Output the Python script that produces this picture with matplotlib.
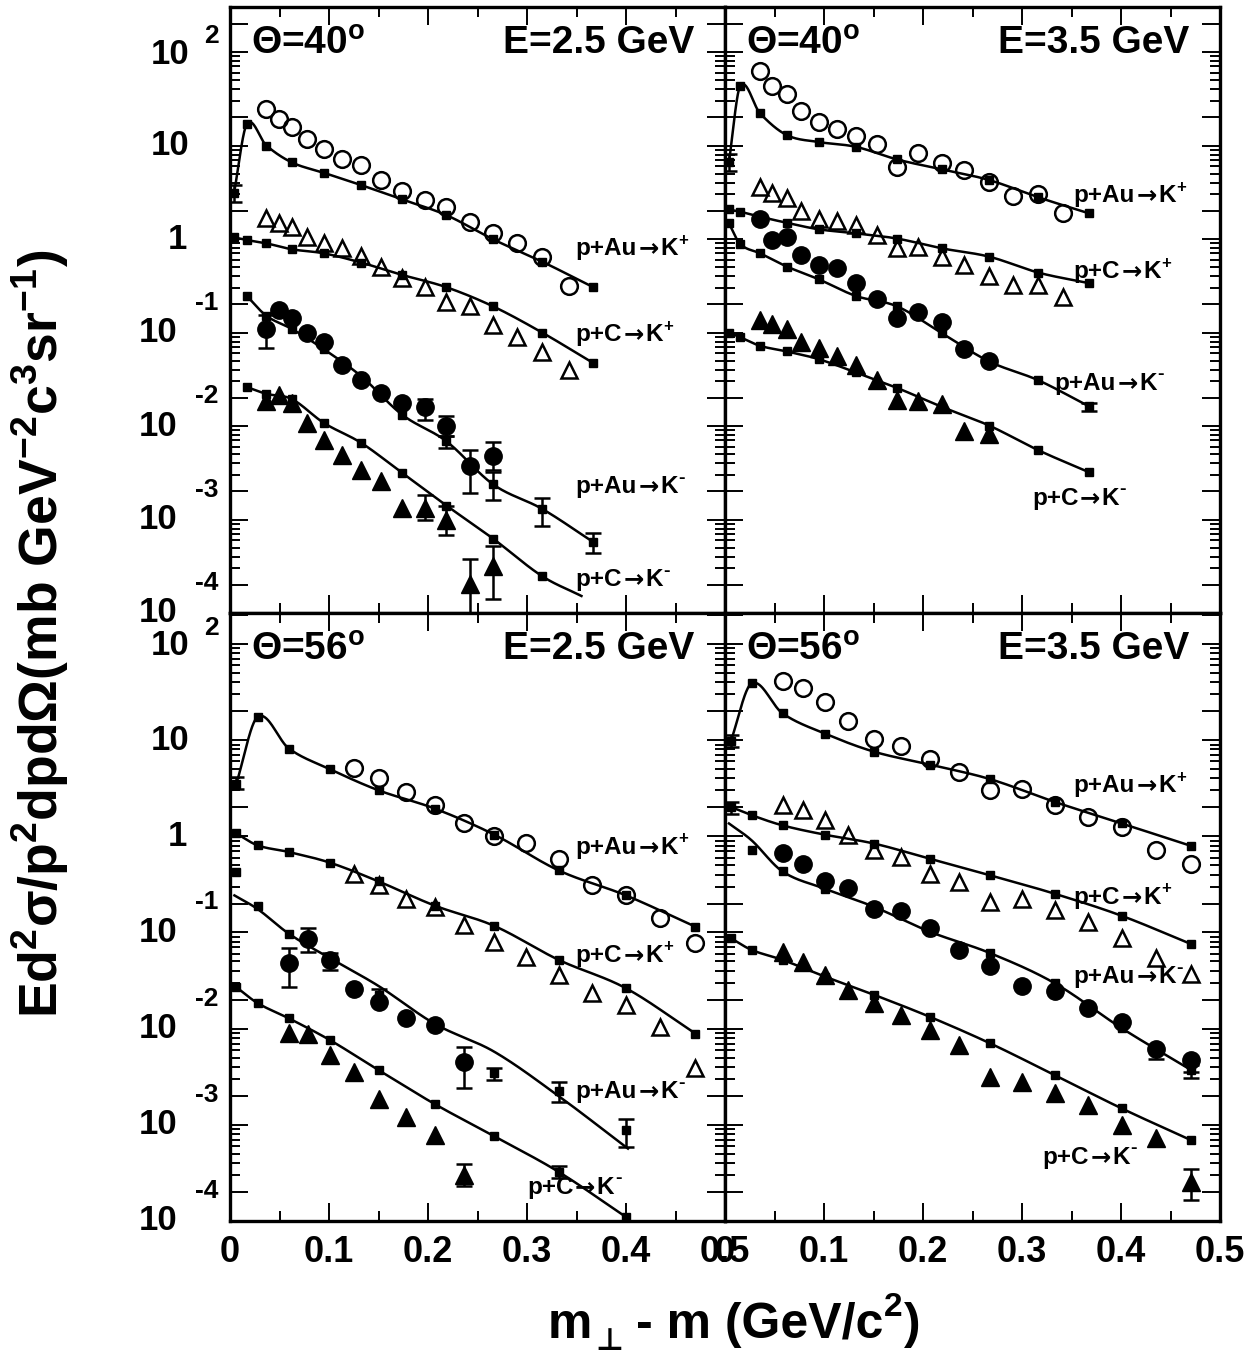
import numpy as np
import matplotlib.pyplot as plt
from matplotlib.ticker import FixedLocator, NullFormatter
from matplotlib.transforms import blended_transform_factory, ScaledTranslation

plt.rcParams['font.family'] = ['Liberation Sans', 'DejaVu Sans']
plt.rcParams['font.weight'] = 'bold'
plt.rcParams['mathtext.fontset'] = 'custom'
plt.rcParams['mathtext.rm'] = 'Liberation Sans:bold'
plt.rcParams['mathtext.it'] = 'Liberation Sans:bold'
plt.rcParams['mathtext.bf'] = 'Liberation Sans:bold'
plt.rcParams['mathtext.sf'] = 'Liberation Sans:bold'
plt.rcParams['mathtext.default'] = 'rm'

# ---------------- Theta = 40 deg, E = 2.5 GeV ----------------
x_a = [0.036, 0.049, 0.0625, 0.078, 0.095, 0.1136, 0.1326, 0.153, 0.174, 0.1966,
       0.2186, 0.2424, 0.2659, 0.29, 0.315, 0.342]
auKp_a = [24.8, 19.0, 15.6, 11.6, 9.29, 7.09, 6.17, 4.27, 3.28, 2.61, 2.21, 1.53, 1.17, 0.90, 0.648, 0.315]
cKp_a = [1.66, 1.49, 1.33, 1.04, 0.914, 0.795, 0.659, 0.507, 0.380, 0.305, 0.214, 0.193, 0.121, 0.089, 0.0626, 0.040]
auKm_a = [0.109, 0.175, 0.142, 0.1, 0.080, 0.0452, 0.0313, 0.0225, 0.0176, 0.0160, 0.0099, 0.00378, 0.00474]
auKm_a_err = {0: (0.068, 0.154), 9: (0.0115, 0.0194), 10: (0.0078, 0.0127), 11: (0.00193, 0.00559), 12: (0.0034, 0.0067)}
cKm_a = [0.0183, 0.0216, 0.0176, 0.0108, 0.00715, 0.00494, 0.00337, 0.00257, 0.00133, 0.00133, 0.001, 0.000202, 0.000318]
cKm_a_err = {9: (0.001, 0.00185), 10: (0.00069, 0.00139), 11: (0.00008, 0.000374), 12: (0.00014, 0.000519)}
xm_a = [0.004, 0.017, 0.0367, 0.0625, 0.0947, 0.1326, 0.1739, 0.2186, 0.2659, 0.3152, 0.367]
m_auKp_a = [3.07, 16.9, 10.0, 6.59, 5.11, 3.77, 2.65, 1.80, 0.99, 0.573, 0.305]
m_cKp_a = [1.04, 0.975, 0.899, 0.776, 0.703, 0.559, 0.413, 0.305, 0.190, 0.1, 0.0471]
m_auKm_a = [0.246, 0.151, 0.109, 0.0664, 0.034, 0.0132, 0.00686, 0.00237, 0.0013, 0.000573]
m_cKm_a = [0.0261, 0.0221, 0.0194, 0.0108, 0.00659, 0.00315, 0.00141, 0.000622, 0.000248]
curve_cKm_a_x = [0.017, 0.0367, 0.0625, 0.0947, 0.1326, 0.1739, 0.2186, 0.2659, 0.3152, 0.355]
curve_cKm_a_y = [0.0261, 0.0221, 0.0194, 0.0108, 0.00659, 0.00315, 0.00141, 0.000622, 0.000248, 0.000152]

# ---------------- Theta = 40 deg, E = 3.5 GeV ----------------
x_b = [0.0355, 0.0477, 0.0626, 0.0772, 0.0946, 0.1131, 0.1322, 0.1531, 0.174, 0.1948,
       0.2192, 0.2418, 0.2669, 0.2912, 0.3166, 0.3417]
auKp_b = [62.7, 43.0, 35.9, 23.4, 17.9, 15.2, 12.6, 10.3, 5.82, 8.36, 6.43, 5.46, 4.10, 2.88, 3.02, 1.91]
cKp_b = [3.56, 3.08, 2.72, 2.01, 1.62, 1.56, 1.41, 1.10, 0.795, 0.828, 0.647, 0.527, 0.402, 0.323, 0.323, 0.242]
auKm_b = [1.62, 0.975, 1.04, 0.675, 0.527, 0.486, 0.342, 0.227, 0.142, 0.164, 0.131, 0.0664, 0.049]
cKm_b = [0.136, 0.124, 0.109, 0.0782, 0.068, 0.0555, 0.0452, 0.0307, 0.0188, 0.0183, 0.0173, 0.00877, 0.00828]
xm_b = [0.004, 0.0153, 0.0355, 0.0626, 0.0946, 0.1322, 0.174, 0.2192, 0.2669, 0.3166, 0.3678]
m_auKp_b = [6.7, 43.0, 22.0, 12.9, 10.9, 9.68, 7.09, 5.55, 4.27, 2.79, 1.88]
m_cKp_b = [2.07, 1.96, 1.73, 1.49, 1.27, 1.15, 1.01, 0.794, 0.647, 0.437, 0.337]
m_auKm_b = [1.47, 0.885, 0.703, 0.507, 0.371, 0.246, 0.19, 0.098, 0.049, 0.0308, 0.0162]
m_cKm_b = [0.1, 0.0891, 0.072, 0.0627, 0.0519, 0.0374, 0.0255, 0.016, 0.0101, 0.0055, 0.0032]

# ---------------- Theta = 56 deg, E = 2.5 GeV ----------------
x_c = [0.125, 0.150, 0.178, 0.207, 0.236, 0.267, 0.299, 0.332, 0.366, 0.400, 0.434, 0.470]
auKp_c = [5.15, 4.05, 2.90, 2.14, 1.36, 1.0, 0.859, 0.576, 0.309, 0.243, 0.141, 0.0774]
cKp_c = [0.408, 0.309, 0.224, 0.184, 0.120, 0.0806, 0.0562, 0.0362, 0.0233, 0.0177, 0.0105, 0.00386]
xk_c = [0.0595, 0.0792, 0.101, 0.125, 0.150, 0.178, 0.207, 0.236]
auKm_c = [0.048, 0.0853, 0.0519, 0.0257, 0.0191, 0.0128, 0.0109, 0.00453]
auKm_c_err = {0: (0.0274, 0.0687), 1: (0.0634, 0.111), 2: (0.0408, 0.061), 7: (0.00239, 0.0065)}
cKm_c = [0.00908, 0.00879, 0.00532, 0.00356, 0.00184, 0.00121, 0.00078, 0.000299]
cKm_c_err = {7: (0.00023, 0.000389)}
xm_c = [0.0064, 0.028, 0.0595, 0.101, 0.150, 0.207, 0.267, 0.332, 0.400, 0.470]
m_auKp_c = [3.54, 17.5, 8.18, 4.99, 3.01, 1.94, 1.04, 0.442, 0.243, 0.115]
m_cKp_c = [1.07, 0.805, 0.687, 0.532, 0.340, 0.19, 0.117, 0.0519, 0.0263, 0.0089]
xmk_c = [0.0064, 0.028, 0.0595, 0.150, 0.267, 0.332, 0.400]
m_auKm_c = [0.425, 0.19, 0.0968, 0.0224, 0.00348, 0.00226, 0.00088]
curve_auKm_c_x = [0.0045, 0.028, 0.0595, 0.101, 0.150, 0.207, 0.267, 0.332, 0.402]
curve_auKm_c_y = [0.243, 0.175, 0.097, 0.054, 0.0278, 0.0112, 0.00575, 0.00199, 0.000566]
m_cKm_c = [0.027, 0.0184, 0.0128, 0.0076, 0.00371, 0.00164, 0.00076, 0.000324, 0.00011]

# ---------------- Theta = 56 deg, E = 3.5 GeV ----------------
x_d = [0.0581, 0.0783, 0.1009, 0.1242, 0.151, 0.1782, 0.2067, 0.2363, 0.2679, 0.2999,
       0.333, 0.3667, 0.4008, 0.4356, 0.4711]
auKp_d = [41.2, 35.1, 24.7, 15.8, 10.2, 8.73, 6.44, 4.68, 3.06, 3.14, 2.10, 1.59, 1.25, 0.715, 0.519]
cKp_d = [2.10, 1.87, 1.47, 1.02, 0.715, 0.609, 0.408, 0.334, 0.210, 0.221, 0.172, 0.130, 0.0873, 0.054, 0.037]
auKm_d = [0.676, 0.519, 0.340, 0.290, 0.174, 0.166, 0.111, 0.0659, 0.045, 0.0278, 0.0249, 0.0163,
          0.0118, 0.0061, 0.00472]
auKm_d_err = {13: (0.0048, 0.0061), 14: (0.00356, 0.00472)}
cKm_d = [0.0634, 0.0499, 0.0362, 0.0253, 0.0187, 0.0139, 0.00968, 0.00676, 0.00316, 0.0028, 0.00212,
         0.0016, 0.00099, 0.000738, 0.000255]
cKm_d_err = {14: (0.000167, 0.000351)}
xm_d = [0.0059, 0.0268, 0.0581, 0.1009, 0.151, 0.2067, 0.2679, 0.333, 0.4008, 0.4711]
m_auKp_d = [9.77, 38.9, 19.0, 11.7, 7.56, 5.58, 3.93, 2.28, 1.36, 0.793]
m_cKp_d = [2.02, 1.66, 1.30, 1.04, 0.839, 0.585, 0.393, 0.253, 0.149, 0.0756]
m_auKm_d = [0.715, 0.431, 0.285, 0.184, 0.102, 0.061, 0.0297, 0.0101, 0.0037]
curve_auKm_d_x = [0.004, 0.0268, 0.0581, 0.1009, 0.151, 0.2067, 0.2679, 0.333, 0.4008, 0.4711]
curve_auKm_d_y = [1.36, 0.91, 0.431, 0.285, 0.184, 0.102, 0.061, 0.0297, 0.0101, 0.0037]
m_cKm_d = [0.0873, 0.0659, 0.0519, 0.0348, 0.0224, 0.0133, 0.00703, 0.00329, 0.00148, 0.00069]

W, H = 1259, 1364
fig = plt.figure(figsize=(W / 100, H / 100), dpi=100)
LS = ['Liberation Sans', 'DejaVu Sans']
DJ = ['DejaVu Sans', 'Liberation Sans']


def smooth(x, y, n=40):
    # cubic Hermite curve through the points (log y), like ROOT's "C" option
    x = np.asarray(x, float)
    ly = np.log10(np.asarray(y, float))
    m = np.empty_like(ly)
    m[1:-1] = (ly[2:] - ly[:-2]) / (x[2:] - x[:-2])
    m[0] = (ly[1] - ly[0]) / (x[1] - x[0])
    m[-1] = (ly[-1] - ly[-2]) / (x[-1] - x[-2])
    xs, ys = [], []
    for i in range(len(x) - 1):
        h = x[i + 1] - x[i]
        t = np.linspace(0, 1, n)
        h00 = 2 * t**3 - 3 * t**2 + 1
        h10 = t**3 - 2 * t**2 + t
        h01 = -2 * t**3 + 3 * t**2
        h11 = t**3 - t**2
        ys.append(h00 * ly[i] + h10 * h * m[i] + h01 * ly[i + 1] + h11 * h * m[i + 1])
        xs.append(x[i] + t * h)
    return np.concatenate(xs), 10 ** np.concatenate(ys)


def rich(ax, x, y, parts, transform):
    # chain of text pieces: (string, size, gap, rise, family), all on one baseline
    s, size, gap, rise, fam = parts[0]
    prev = ax.text(x, y, s, fontsize=size, family=fam, transform=transform,
                   ha='left', va='baseline', zorder=6)
    for s, size, gap, rise, fam in parts[1:]:
        prev = ax.annotate(s, xy=(1, y), xycoords=(prev, transform), xytext=(gap, rise),
                           textcoords='offset points', fontsize=size, family=fam,
                           ha='left', va='baseline', annotation_clip=False, zorder=6)


def reaction(target, charge):
    # e.g. p+Au -> K+
    sup = '+' if charge > 0 else '-'
    return [('p+' + target, 17.5, 0, 0, LS), ('→', 17.5, 1, 0, DJ), ('K', 17.5, 1, 0, LS),
            (sup, 12 if charge > 0 else 14, 0.5, 7.5, LS)]


def errbars(ax, x, y, err):
    for i, (lo, hi) in err.items():
        ax.errorbar(x[i], y[i], yerr=[[y[i] - lo], [hi - y[i]]], fmt='none', ecolor='k',
                    elinewidth=1.8, capsize=6, capthick=1.8, zorder=4)


def model(ax, xs, ys, cx=None, cy=None, err=None):
    if cx is None:
        cx, cy = xs, ys
    sx, sy = smooth(cx, cy)
    ax.plot(sx, sy, color='k', lw=1.8, zorder=3)
    ax.plot(xs, ys, 's', color='k', ms=6, zorder=4)
    if err:
        errbars(ax, xs, ys, err)


def data(ax, x, y, kind, err=None):
    if kind == 'oc':
        ax.plot(x, y, 'o', mfc='none', mec='k', mew=1.8, ms=12, zorder=5)
    elif kind == 'ot':
        ax.plot(x, y, '^', mfc='none', mec='k', mew=1.8, ms=12, zorder=5)
    elif kind == 'fc':
        ax.plot(x, y, 'o', color='k', ms=12.5, zorder=5)
    else:
        ax.plot(x, y, '^', color='k', ms=12.5, zorder=5)
    if err:
        errbars(ax, x, y, err)


def make_axes(x0, y0, x1, y1, ymax, bottom_labels, left_labels):
    ax = fig.add_axes([x0 / W, 1 - y1 / H, (x1 - x0) / W, (y1 - y0) / H])
    ax.set_yscale('log')
    ax.set_xlim(0, 0.5)
    ax.set_ylim(1e-4, ymax)
    ax.xaxis.set_major_locator(FixedLocator([0, 0.1, 0.2, 0.3, 0.4, 0.5]))
    ax.xaxis.set_minor_locator(FixedLocator([0.05, 0.15, 0.25, 0.35, 0.45]))
    majors = [k * 10.0 ** n for n in range(-4, 3) for k in (1, 2)]
    minors = [k * 10.0 ** n for n in range(-4, 3) for k in range(3, 10)]
    ax.yaxis.set_major_locator(FixedLocator(majors))
    ax.yaxis.set_minor_locator(FixedLocator(minors))
    ax.yaxis.set_major_formatter(NullFormatter())
    ax.yaxis.set_minor_formatter(NullFormatter())
    ax.tick_params(which='both', direction='in', top=True, right=True, width=1.4)
    ax.tick_params(which='major', length=13)
    ax.tick_params(which='minor', length=7)
    if bottom_labels:
        ax.set_xticklabels(['0', '0.1', '0.2', '0.3', '0.4', '0.5'])
        ax.tick_params(axis='x', labelsize=26, pad=10)
    else:
        ax.tick_params(axis='x', labelbottom=False)
    for s in ax.spines.values():
        s.set_linewidth(2.4)
    if left_labels:
        base = blended_transform_factory(ax.transAxes, ax.transData)

        def off(dx, dy):
            return base + ScaledTranslation(dx / 100, dy / 100, fig.dpi_scale_trans)
        for n in range(-4, 3):
            v = 10.0 ** n
            if n == 0:
                ax.text(0, v, '1', transform=off(-43, 0), ha='right', va='center', fontsize=25)
            elif n == 1:
                ax.text(0, v, '10', transform=off(-41, 0), ha='right', va='center', fontsize=25)
            elif n == 2:
                ax.text(0, v, '10', transform=off(-41, -2), ha='right', va='center', fontsize=25)
                ax.text(0, v, '2', transform=off(-26, 16), ha='left', va='center', fontsize=19)
            else:
                ax.text(0, v, '10', transform=off(-53, 0), ha='right', va='center', fontsize=25)
                ax.text(0, v, str(n), transform=off(-12, 30), ha='right', va='center', fontsize=19)
    return ax


def labels(ax, theta, energy, items):
    ax.text(0.043, 0.94, 'Θ=' + theta + '$^{o}$', transform=ax.transAxes, fontsize=28,
            ha='left', va='center')
    ax.text(0.938, 0.94, 'E=' + energy + ' GeV', transform=ax.transAxes, fontsize=28,
            ha='right', va='center')
    # label positions are the centre of the capitals; shift to the baseline
    tr = ax.transData + ScaledTranslation(0, -0.085, fig.dpi_scale_trans)
    for (target, charge), x, y in items:
        rich(ax, x, y, reaction(target, charge), tr)


AUP, CP, AUM, CM = ('Au', 1), ('C', 1), ('Au', -1), ('C', -1)

# top left
ax = make_axes(230, 7, 725, 613, 303, False, True)
model(ax, xm_a, m_auKp_a, err={0: (2.5, 3.8)})
model(ax, xm_a, m_cKp_a)
model(ax, xm_a[1:], m_auKm_a, err={6: (0.0058, 0.0078), 7: (0.0016, 0.0032), 8: (0.00085, 0.00171),
                                     9: (0.00044, 0.00072)})
model(ax, xm_a[1:10], m_cKm_a, curve_cKm_a_x, curve_cKm_a_y)
data(ax, x_a, auKp_a, 'oc')
data(ax, x_a, cKp_a, 'ot')
data(ax, x_a[:13], auKm_a, 'fc', auKm_a_err)
data(ax, x_a[:13], cKm_a, 'ft', cKm_a_err)
labels(ax, '40', '2.5', [(AUP, 0.349, 0.83), (CP, 0.349, 0.099), (AUM, 0.349, 0.00237), (CM, 0.349, 0.000238)])

# top right
ax = make_axes(725, 7, 1220, 613, 303, False, False)
model(ax, xm_b, m_auKp_b, err={0: (5.4, 8.2)})
model(ax, xm_b, m_cKp_b)
model(ax, xm_b, m_auKm_b, err={10: (0.0145, 0.0175)})
model(ax, xm_b, m_cKm_b)
data(ax, x_b, auKp_b, 'oc')
data(ax, x_b, cKp_b, 'ot')
data(ax, x_b[:13], auKm_b, 'fc')
data(ax, x_b[:13], cKm_b, 'ft')
labels(ax, '40', '3.5', [(AUP, 0.352, 3.07), (CP, 0.352, 0.467), (AUM, 0.333, 0.030), (CM, 0.310, 0.00177)])

# bottom left
ax = make_axes(230, 613, 725, 1221, 210, True, True)
model(ax, xm_c, m_auKp_c, err={0: (3.14, 4.15)})
model(ax, xm_c, m_cKp_c)
model(ax, xmk_c, m_auKm_c, curve_auKm_c_x, curve_auKm_c_y,
      err={3: (0.020, 0.026), 4: (0.0029, 0.0039), 5: (0.00174, 0.0028), 6: (0.00059, 0.00116)})
model(ax, xm_c[:9], m_cKm_c, err={7: (0.00028, 0.00037)})
data(ax, x_c, auKp_c, 'oc')
data(ax, x_c, cKp_c, 'ot')
data(ax, xk_c, auKm_c, 'fc', auKm_c_err)
data(ax, xk_c, cKm_c, 'ft', cKm_c_err)
labels(ax, '56', '2.5', [(AUP, 0.349, 0.805), (CP, 0.349, 0.061), (AUM, 0.349, 0.00233), (CM, 0.300, 0.000236)])

# bottom right
ax = make_axes(725, 613, 1220, 1221, 210, True, False)
model(ax, xm_d, m_auKp_d, err={0: (8.53, 11.3)})
model(ax, xm_d, m_cKp_d, err={0: (1.72, 2.28)})
model(ax, xm_d[1:], m_auKm_d, curve_auKm_d_x, curve_auKm_d_y, err={8: (0.0031, 0.0042)})
model(ax, xm_d, m_cKm_d)
data(ax, x_d, auKp_d, 'oc')
data(ax, x_d, cKp_d, 'ot')
data(ax, x_d, auKm_d, 'fc', auKm_d_err)
data(ax, x_d, cKm_d, 'ft', cKm_d_err)
labels(ax, '56', '3.5', [(AUP, 0.352, 3.54), (CP, 0.352, 0.243), (AUM, 0.352, 0.0362), (CM, 0.321, 0.000483)])

# axis titles
rich(ax, 548 / W, 1 - 1338 / H,
     [('m', 36, 0, 0, LS), ('⊥', 22, 2, -9, DJ), ('- m (GeV/c', 36, 9, 0, LS),
      ('2', 24, 1, 16, LS), (')', 36, 1, 0, LS)], fig.transFigure)
fig.text(0.032, 0.535, r'Ed$^{2}$σ/p$^{2}$dpdΩ(mb GeV$^{-2}$c$^{3}$sr$^{-1}$)',
         rotation=90, ha='center', va='center', fontsize=38.5)

plt.savefig('out.png', dpi=100)
